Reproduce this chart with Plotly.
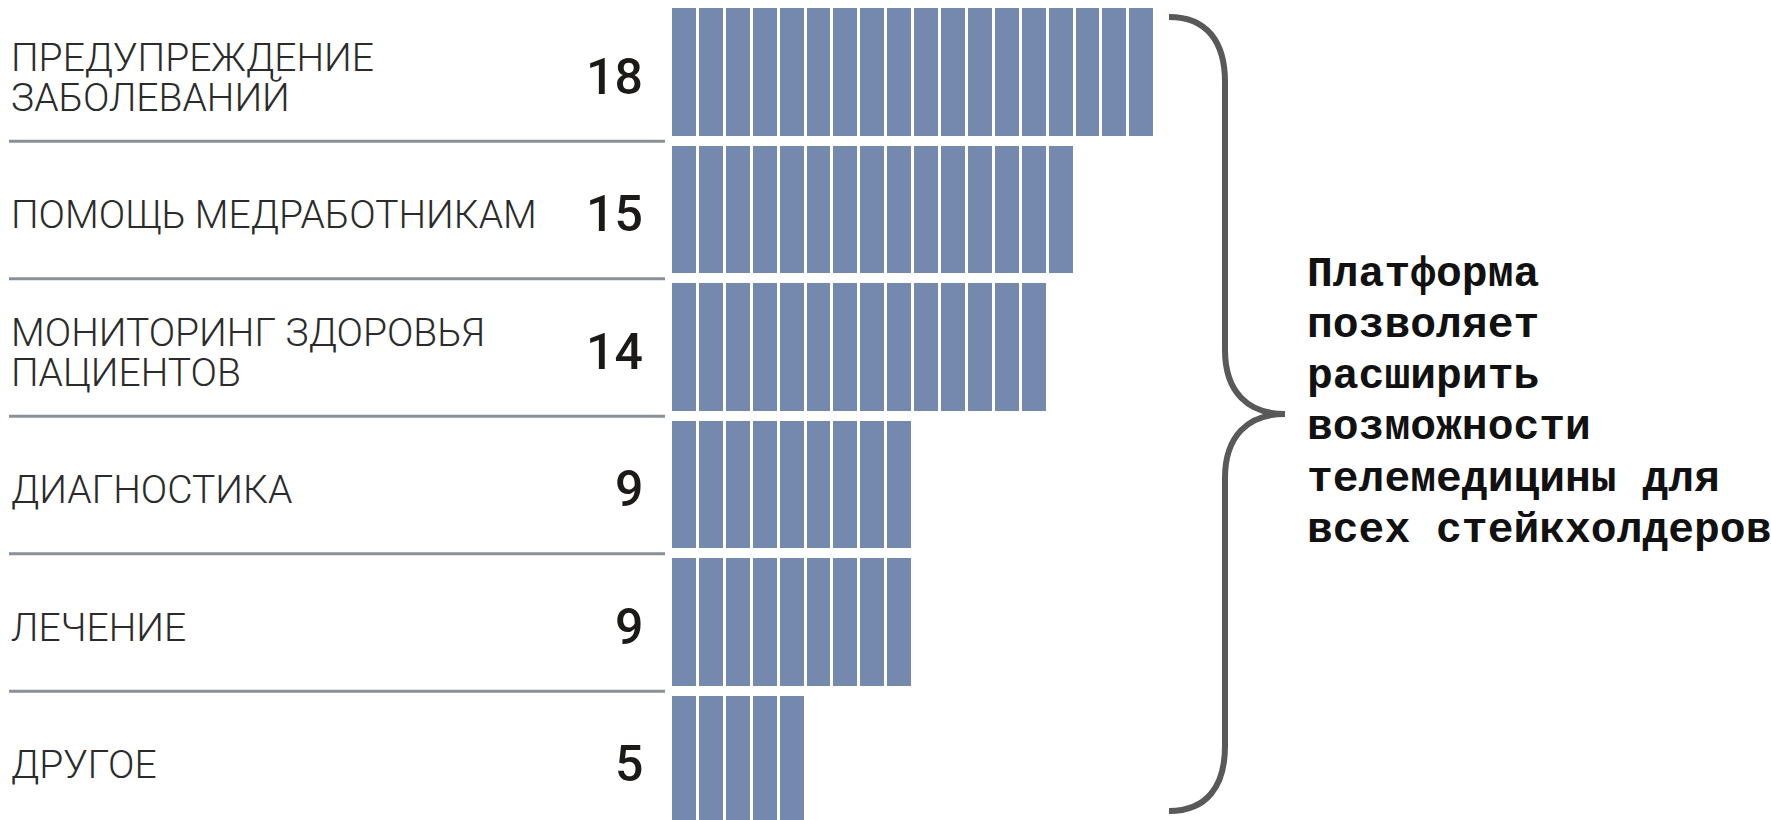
import plotly.graph_objects as go

# ---- data ----
categories = ["ПРЕДУПРЕЖДЕНИЕ ЗАБОЛЕВАНИЙ", "ПОМОЩЬ МЕДРАБОТНИКАМ",
              "МОНИТОРИНГ ЗДОРОВЬЯ ПАЦИЕНТОВ", "ДИАГНОСТИКА", "ЛЕЧЕНИЕ", "ДРУГОЕ"]
label_lines = [["ПРЕДУПРЕЖДЕНИЕ", "ЗАБОЛЕВАНИЙ"], ["ПОМОЩЬ МЕДРАБОТНИКАМ"],
               ["МОНИТОРИНГ ЗДОРОВЬЯ", "ПАЦИЕНТОВ"], ["ДИАГНОСТИКА"], ["ЛЕЧЕНИЕ"], ["ДРУГОЕ"]]
values = [18, 15, 14, 9, 9, 5]
note_lines = ["Платформа", "позволяет", "расширить", "возможности",
              "телемедицины для", "всех стейкхолдеров"]

W, H = 1771, 820
BAR_COLOR = "#7489ad"
X0_PX = 671.0      # pixel where value 0 sits
PX_PER_UNIT = 26.9
ROW0_PX = 72.5
ROW_STEP = 137.5

def pxx(x):
    return x / W

def pxy(y):
    return 1 - y / H

fig = go.Figure()
rows = list(range(len(values)))
for k in range(max(values)):
    fig.add_trace(go.Bar(
        y=rows,
        x=[1 if v > k else None for v in values],
        orientation="h",
        marker=dict(color=BAR_COLOR, line=dict(color="white", width=3)),
        width=0.95,
        showlegend=False,
        hoverinfo="skip",
    ))

xr = [-X0_PX / PX_PER_UNIT, (W - X0_PX) / PX_PER_UNIT]
yr = [(H - ROW0_PX) / ROW_STEP, -ROW0_PX / ROW_STEP]

shapes = []
for i in range(len(values) - 1):
    shapes.append(dict(type="line", xref="paper", yref="y",
                       x0=pxx(9), x1=pxx(665), y0=i + 0.5, y1=i + 0.5,
                       line=dict(color="#8a9098", width=3)))

# curly brace
pts = [(1169, 17), (1207, 17), (1225, 42), (1225, 82),
       (1225, 350), (1225, 392), (1248, 414), (1285, 414),
       (1248, 414), (1225, 436), (1225, 478),
       (1225, 746), (1225, 786), (1207, 811), (1169, 811)]
def P(p):
    return f"{pxx(p[0]):.5f},{pxy(p[1]):.5f}"
path = (f"M {P(pts[0])} C {P(pts[1])} {P(pts[2])} {P(pts[3])} "
        f"L {P(pts[4])} C {P(pts[5])} {P(pts[6])} {P(pts[7])} "
        f"C {P(pts[8])} {P(pts[9])} {P(pts[10])} "
        f"L {P(pts[11])} C {P(pts[12])} {P(pts[13])} {P(pts[14])}")
shapes.append(dict(type="path", xref="paper", yref="paper", path=path,
                   line=dict(color="#595959", width=6)))

annotations = []
label_font = dict(family="Roboto, Liberation Sans, sans-serif", size=39,
                  color="#2b2b2b", weight=300)
num_font = dict(family="Roboto, Liberation Sans, sans-serif", size=50,
                color="#1c1a17", weight=500)
for i, (lines, v) in enumerate(zip(label_lines, values)):
    n = len(lines)
    for j, t in enumerate(lines):
        off = (j - (n - 1) / 2) * 40
        annotations.append(dict(xref="paper", yref="y", x=pxx(9), y=i,
                                text=t, showarrow=False, xanchor="left",
                                yanchor="middle", yshift=-off - 5,
                                font=label_font))
    annotations.append(dict(xref="paper", yref="y", x=pxx(645), y=i,
                            text=str(v), showarrow=False, xanchor="right",
                            yanchor="middle", yshift=-4, font=num_font))

for j, t in enumerate(note_lines):
    annotations.append(dict(xref="paper", yref="paper", x=pxx(1305),
                            y=pxy(274 + j * 51.3), text=f"<b>{t}</b>",
                            showarrow=False, xanchor="left", yanchor="middle",
                            font=dict(family="Liberation Mono, Courier New, monospace",
                                      size=43, color="#111111")))

fig.update_layout(
    width=W, height=H,
    margin=dict(l=0, r=0, t=0, b=0),
    paper_bgcolor="white", plot_bgcolor="white",
    barmode="stack", bargap=0,
    xaxis=dict(range=xr, visible=False, fixedrange=True),
    yaxis=dict(range=yr, visible=False, fixedrange=True),
    shapes=shapes, annotations=annotations,
)
fig.write_html("out.html")
